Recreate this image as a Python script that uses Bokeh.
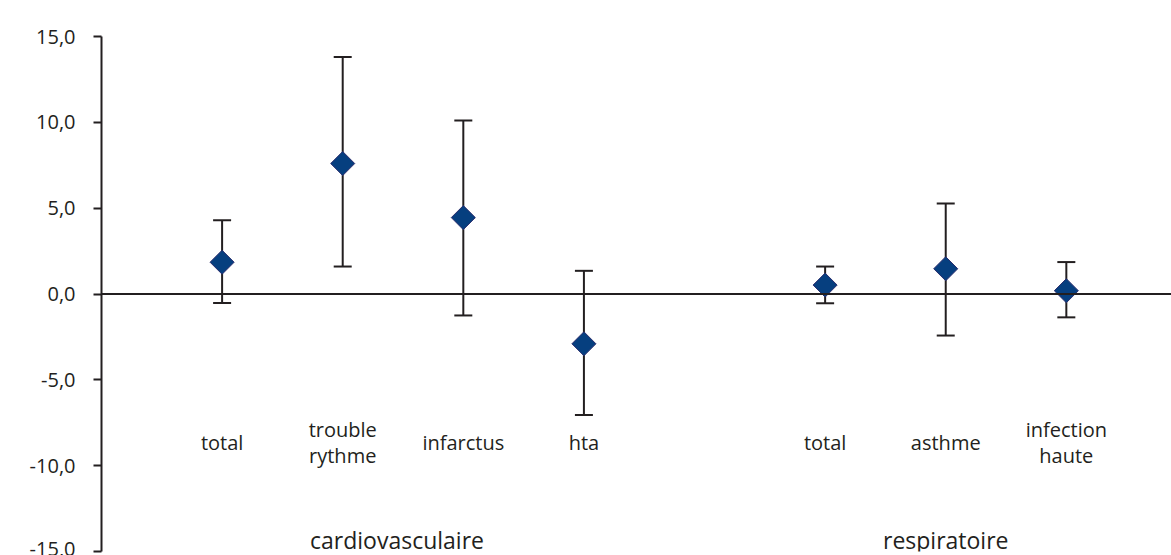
from bokeh.plotting import figure
from bokeh.models import ColumnDataSource, Whisker, TeeHead, Span, FixedTicker, Range1d
from bokeh.core.properties import value
from bokeh.embed import file_html
from bokeh.resources import INLINE
import math

# ---- data ----
categories = ["total", "trouble\nrythme", "infarctus", "hta", "total", "asthme", "infection\nhaute"]
positions = [1, 2, 3, 4, 6, 7, 8]
estimates = [1.85, 7.6, 4.45, -2.9, 0.52, 1.47, 0.19]
lower_ci = [-0.52, 1.6, -1.25, -7.05, -0.54, -2.42, -1.36]
upper_ci = [4.3, 13.8, 10.1, 1.35, 1.6, 5.27, 1.86]
groups = ["cardiovasculaire", "respiratoire"]
group_positions = [2.45, 7.0]
y_ticks = [-15, -10, -5, 0, 5, 10, 15]
y_tick_labels = ["-15,0", "-10,0", "-5,0", "0,0", "5,0", "10,0", "15,0"]

FONT = "Open Sans"
TXT = "#231f20"

p = figure(width=1171, height=555, output_backend="svg", toolbar_location=None,
           x_range=Range1d(0, 8.872), y_range=Range1d(-15, 15),
           min_border_left=101, min_border_right=0, min_border_top=36, min_border_bottom=4)
p.outline_line_color = None
p.xgrid.visible = False
p.ygrid.visible = False
p.xaxis.visible = False
p.background_fill_color = "white"

yax = p.yaxis[0]
yax.ticker = FixedTicker(ticks=y_ticks)
yax.major_label_overrides = {t: l for t, l in zip(y_ticks, y_tick_labels)}
yax.axis_line_color = TXT
yax.axis_line_width = 2
yax.major_tick_line_color = TXT
yax.major_tick_line_width = 2
yax.major_tick_out = 8
yax.major_tick_in = 0
yax.minor_tick_line_color = None
yax.major_label_standoff = 18
yax.major_label_text_font = FONT
yax.major_label_text_font_size = "20px"
yax.major_label_text_color = TXT

p.add_layout(Span(location=0, dimension="width", line_color=TXT, line_width=2))

src = ColumnDataSource(dict(x=positions, y=estimates, lower=lower_ci, upper=upper_ci, label=categories))

w = Whisker(base="x", lower="lower", upper="upper", source=src, dimension="height",
            line_color=TXT, line_width=2,
            upper_head=TeeHead(size=18, line_color=TXT, line_width=2),
            lower_head=TeeHead(size=18, line_color=TXT, line_width=2))
p.add_layout(w)

p.scatter(x="x", y="y", source=src, marker="square", size=17, angle=math.pi / 4,
          fill_color="#063f7f", line_color="#2b2e6e", line_width=1)

lab_y = [-8.65] * len(categories)
p.text(x=positions, y=lab_y, text=categories, text_align="center", text_baseline="middle",
       text_font=value(FONT), text_font_size="20px", text_color=TXT, text_line_height=0.95)

p.text(x=group_positions, y=[-14.35] * len(groups), text=groups, text_align="center",
       text_baseline="middle", text_font=value(FONT), text_font_size="23px", text_color=TXT)

open("out.html", "w").write(file_html(p, INLINE))
